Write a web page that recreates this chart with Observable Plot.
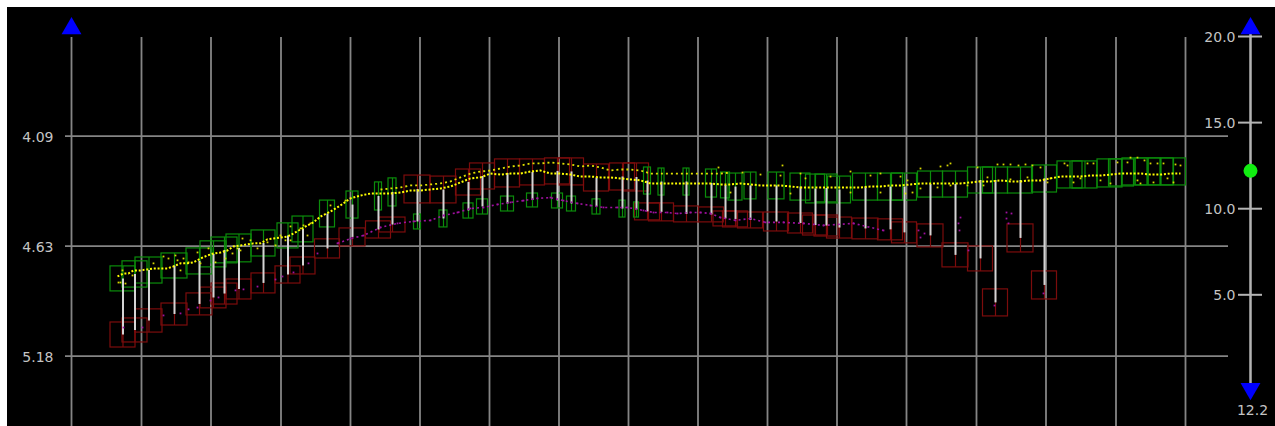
<!DOCTYPE html>
<html><head><meta charset="utf-8">
<script src="https://cdn.jsdelivr.net/npm/d3@7"></script>
<script src="https://cdn.jsdelivr.net/npm/@observablehq/plot@0.6"></script>
<style>
html,body{margin:0;padding:0;background:#fff;}
#chart{position:absolute;left:7px;top:7px;width:1268px;height:419px;background:#000;}
</style></head><body><div id="chart"></div>
<script>
// ---- axis / tick data ----
const gridT = [0,70,139.5,209.5,279,348.5,418,487.5,557,626.5,696,765.5,835,905,974.5,1044.5,1114];
const priceTicks = [4.09, 4.635, 5.18];
const priceTickLabels = ["4.09", "4.63", "5.18"];
const rightTicks = [20, 15, 10, 5];
const rightTickLabels = ["20.0", "15.0", "10.0", "5.0"];
const rightCurrent = 12.2;
const rightCurrentLabel = "12.2";

// ---- group (box pairs) data ----
const groupT = [51.5,63.5,77.5,103,128,142,153,167.5,192,216.5,231.5,256,281,307,321,346,372,397,411,436,461,486,500,525,551,565,576,590,615,640,654,664,679,705,729,744,755,768,794,819,833,859,884,909,924,949,973,998.5,1013.5,1038.5,1050,1063.5,1076.5,1089.5,1102];
const greenWidth = [25,25,27,26,26,26,26,25,24,21,21,15,12,7,8,7,8,10,11,13,11,11,9,8,6,5,7,6,6,11,9,14,12,16,20,19,22,23,25,25,25,25,25,25,25,25,25,25,25,25,25,25,25,25,25];
const greenTop = [4.735,4.710,4.691,4.671,4.646,4.611,4.592,4.577,4.557,4.522,4.488,4.409,4.364,4.319,4.299,4.478,4.458,4.423,4.403,4.389,4.374,4.374,4.389,4.403,4.409,4.418,4.245,4.250,4.250,4.255,4.270,4.275,4.270,4.270,4.275,4.280,4.280,4.290,4.275,4.275,4.275,4.265,4.265,4.245,4.245,4.245,4.235,4.215,4.215,4.205,4.205,4.200,4.200,4.200,4.200];
const greenBottom = [4.859,4.840,4.820,4.795,4.775,4.740,4.720,4.715,4.686,4.646,4.616,4.542,4.498,4.458,4.438,4.552,4.542,4.498,4.478,4.463,4.443,4.448,4.463,4.478,4.493,4.493,4.379,4.384,4.384,4.394,4.398,4.409,4.403,4.403,4.409,4.423,4.418,4.423,4.409,4.409,4.409,4.394,4.394,4.374,4.374,4.374,4.369,4.349,4.349,4.344,4.339,4.334,4.334,4.334,4.334];
const redWidth = [25,25,27,26,26,26,26,25,24,25,25,25,26,25,26,26,26,25,25,25,25,25,25,25,25,25,25,25,25,25,24,25,25,25,25,25,24,25,26,25,25,26,26,25,25,26,25,null,null,null,null,null,null,null,null];
const redTop = [5.013,4.993,4.948,4.919,4.869,4.840,4.820,4.800,4.770,4.735,4.691,4.601,4.547,4.512,4.493,4.285,4.290,4.255,4.225,4.205,4.205,4.200,4.200,4.230,4.225,4.225,4.423,4.423,4.438,4.443,4.463,4.463,4.468,4.468,4.473,4.483,4.483,4.493,4.498,4.502,4.517,4.527,4.621,4.636,4.849,4.527,4.760,null,null,null,null,null,null,null,null];
const redBottom = [5.137,5.112,5.063,5.028,4.978,4.943,4.924,4.899,4.869,4.820,4.775,4.696,4.636,4.597,4.567,4.423,4.423,4.384,4.354,4.344,4.334,4.329,4.334,4.364,4.359,4.364,4.507,4.512,4.517,4.517,4.537,4.542,4.547,4.562,4.572,4.582,4.587,4.597,4.601,4.606,4.621,4.641,4.740,4.760,4.983,4.666,4.899,null,null,null,null,null,null,null,null];

// ---- yellow trail (main band) ----
const yellowT = [46,52,57,62,69,76,82,89,96,102,109,116,122,129,136,142,149,156,162,169,176,182,189,196,202,209,216,222,229,236,242,249,259,269,279,289,299,309,319,329,339,349,359,369,379,389,399,409,419,429,439,449,459,469,479,489,499,509,519,529,539,549,559,569,579,589,599,609,619,629,639,649,659,669,679,689,699,709,719,729,739,749,759,769,779,789,799,809,819,829,839,849,859,869,879,889,899,909,919,929,939,949,959,969,979,989,999,1009,1019,1029,1039,1049,1059,1069,1079,1089,1099,1109];
const yellowV = [4.785,4.770,4.770,4.755,4.755,4.750,4.745,4.745,4.745,4.735,4.720,4.720,4.715,4.696,4.681,4.671,4.666,4.656,4.636,4.631,4.626,4.621,4.621,4.601,4.597,4.592,4.587,4.572,4.552,4.532,4.517,4.488,4.463,4.433,4.398,4.384,4.374,4.374,4.374,4.369,4.359,4.359,4.354,4.349,4.339,4.319,4.299,4.294,4.275,4.280,4.275,4.275,4.265,4.260,4.275,4.275,4.280,4.290,4.290,4.294,4.294,4.299,4.304,4.309,4.324,4.324,4.324,4.324,4.324,4.324,4.324,4.329,4.329,4.324,4.329,4.334,4.334,4.334,4.339,4.344,4.344,4.344,4.344,4.344,4.344,4.344,4.339,4.339,4.334,4.334,4.329,4.324,4.324,4.324,4.324,4.324,4.319,4.314,4.314,4.309,4.314,4.314,4.309,4.309,4.299,4.290,4.290,4.290,4.285,4.285,4.280,4.275,4.275,4.275,4.280,4.280,4.275,4.275];

// ---- yellow upper band ----
const upperT = [309,319,329,339,349,359,369,379,389,399,409,419,429,439,449,459,469,479,489,499,509,519,529,539,549,559,569,579,589,599,609,619,629,639,649,659];
const upperV = [4.354,4.349,4.344,4.334,4.334,4.329,4.324,4.314,4.294,4.275,4.265,4.260,4.250,4.240,4.235,4.225,4.225,4.220,4.225,4.230,4.240,4.235,4.245,4.260,4.255,4.255,4.260,4.275,4.275,4.275,4.275,4.275,4.275,4.275,4.275,4.270];

// ---- yellow scattered ticks ----
const scatterT = [47,49,51,54,61,82,92,97,104,106,109,112,117,126,129,137,144,154,161,166,169,171,179,186,196,204,209,214,219,219,229,232,236,239,259,274,647,671,689,709,711,729,734,759,779,799,809,829,659,719,779,809,834,836,841,849,849,866,869,876,879,879,896,906,912,916,926,932,939,939,947,954,956,961,969,976,979,993,996,1002,1009,1016,1022,1029,1039,1046,1056,1059,1066,1066,1069,1073,1079,1082,1086,1092,1096,1102,1104,1109];
const scatterV = [4.815,4.815,4.755,4.820,4.780,4.720,4.686,4.696,4.681,4.705,4.755,4.696,4.715,4.666,4.720,4.646,4.715,4.696,4.671,4.646,4.656,4.597,4.606,4.646,4.616,4.631,4.582,4.606,4.537,4.606,4.547,4.532,4.582,4.522,4.433,4.409,4.245,4.270,4.280,4.285,4.235,4.275,4.299,4.290,4.265,4.285,4.275,4.290,4.369,4.374,4.369,4.369,4.374,4.309,4.369,4.349,4.250,4.344,4.240,4.235,4.225,4.334,4.334,4.245,4.334,4.294,4.230,4.230,4.230,4.304,4.235,4.230,4.294,4.235,4.245,4.319,4.299,4.225,4.235,4.319,4.299,4.225,4.225,4.309,4.324,4.220,4.220,4.196,4.196,4.309,4.324,4.210,4.225,4.319,4.225,4.225,4.299,4.319,4.230,4.235];

// ---- purple trail ----
const purpleT = [52,71,92,109,117,126,139,147,164,172,186,204,211,222,237,246,266,279,292,309,326,342,359,372,386,399,412,426,439,452,466,479,492,506,519,532,546,556,572,582,596,606,619,629,639,649,664,679,694,712,732,752,782,812,847,853,849,887,889,888,897,935,940,935,937,972,923];
const purpleV = [5.038,5.038,4.978,4.968,4.948,4.939,4.904,4.889,4.854,4.849,4.835,4.800,4.785,4.765,4.720,4.671,4.621,4.597,4.582,4.542,4.522,4.512,4.507,4.483,4.468,4.448,4.443,4.428,4.418,4.409,4.398,4.394,4.409,4.423,4.433,4.443,4.443,4.443,4.458,4.468,4.468,4.473,4.468,4.468,4.473,4.493,4.507,4.498,4.517,4.517,4.522,4.532,4.522,4.557,4.557,4.572,4.592,4.522,4.493,4.557,4.656,4.468,4.473,4.498,4.522,4.869,4.929];

// ---- build tables ----
const groups = groupT.map((t, i) => ({
  t, gw: greenWidth[i], g1: greenTop[i], g2: greenBottom[i],
  rw: redWidth[i], r1: redTop[i], r2: redBottom[i]
}));
const redGroups = groups.filter(d => d.r1 != null);
const yellow = yellowT.map((t, i) => ({t, v: yellowV[i]}));
const upper = upperT.map((t, i) => ({t, v: upperV[i]}));
const scatter = scatterT.map((t, i) => ({t, v: scatterV[i]}));
const purple = purpleT.map((t, i) => ({t, v: purpleV[i]}));
const purpleDense = purple.filter(d => d.t >= 266 && d.t <= 812);

// right axis (0..20) expressed in price units of the shared vertical scale
const rToV = d3.scaleLinear().domain([0, 20]).range([5.3025, 3.5960]);
const rightAxisT = 1179;

const GREEN = "#0b8c0b", RED = "#7c0c0c", GRID = "#858585", TXT = "#c4c4c4";

const chart = Plot.plot({
  width: 1268, height: 419,
  marginLeft: 64, marginRight: 47, marginTop: 30, marginBottom: 0,
  x: {domain: [0, 1157], axis: null},
  y: {domain: [5.5284, 3.6009], axis: null},
  style: {background: "black", fontFamily: "'DejaVu Sans', sans-serif", fontSize: "14px", overflow: "visible"},
  marks: [
    Plot.ruleX(gridT, {x: d => d, stroke: GRID, strokeWidth: 1.8}),
    Plot.ruleY(priceTicks, {y: d => d, x1: -6, x2: 1157, stroke: GRID, strokeWidth: 1.8}),
    Plot.text(priceTicks, {x: -18, y: d => d, text: (d, i) => priceTickLabels[i], textAnchor: "end", fill: TXT, dy: 1}),
    // red boxes
    Plot.rect(redGroups, {x1: d => d.t - d.rw / 2, x2: d => d.t + d.rw / 2, y1: "r1", y2: "r2", fill: "none", stroke: RED, strokeWidth: 1.2}),
    Plot.ruleX(redGroups, {x: "t", y1: "r1", y2: "r2", stroke: RED, strokeWidth: 1.2}),
    // green boxes
    Plot.rect(groups, {x1: d => d.t - d.gw / 2, x2: d => d.t + d.gw / 2, y1: "g1", y2: "g2", fill: "none", stroke: GREEN, strokeWidth: 1.2}),
    Plot.ruleX(groups, {x: "t", y1: "g1", y2: "g2", stroke: GREEN, strokeWidth: 1.2}),
    // white connectors
    Plot.ruleX(redGroups, {x: "t", y1: d => (d.g1 + d.g2) / 2, y2: d => (d.r1 + d.r2) / 2, stroke: "#d4d4d4", strokeWidth: 2}),
    // purple
    Plot.line(purpleDense, {x: "t", y: "v", stroke: "#a010a0", strokeWidth: 1.6, strokeDasharray: "2,3", strokeLinecap: "butt"}),
    Plot.dot(purple, {x: "t", y: "v", symbol: "square", r: 1.0, fill: "#a010a0"}),
    // yellow
    Plot.line(upper, {x: "t", y: "v", stroke: "#e0e000", strokeWidth: 1.8, strokeDasharray: "2,3", strokeLinecap: "butt"}),
    Plot.dot(scatter, {x: "t", y: "v", symbol: "square", r: 1.0, fill: "#d8d800"}),
    Plot.line(yellow, {x: "t", y: "v", stroke: "#ffff00", strokeWidth: 2, strokeDasharray: "2,1.8", strokeLinecap: "butt"}),
    // right axis
    Plot.ruleX([rightAxisT], {x: d => d, y1: rToV(20.4), y2: rToV(-0.4), stroke: "#b4b4b4", strokeWidth: 2.5}),
    Plot.ruleY(rightTicks, {y: d => rToV(d), x1: rightAxisT - 12, x2: rightAxisT + 12, stroke: "#b4b4b4", strokeWidth: 2}),
    Plot.text(rightTicks, {x: rightAxisT - 15, y: d => rToV(d), text: (d, i) => rightTickLabels[i], textAnchor: "end", fill: TXT, dy: 1}),
    Plot.dot([rightCurrent], {x: rightAxisT, y: d => rToV(d), r: 7, fill: "#11ee11"}),
    Plot.text([rightCurrent], {x: rightAxisT + 2, y: () => rToV(-1.72), text: () => rightCurrentLabel, fill: TXT, textAnchor: "middle"}),
    // blue arrows
    Plot.dot([0, rightAxisT], {x: d => d, y: () => rToV(20.47), symbol: "triangle", r: 7.4, fill: "#0000ff"}),
    Plot.dot([rightAxisT], {x: d => d, y: () => rToV(-0.46), symbol: "triangle", rotate: 180, r: 7.4, fill: "#0000ff"})
  ]
});
document.getElementById("chart").appendChild(chart);
</script></body></html>
